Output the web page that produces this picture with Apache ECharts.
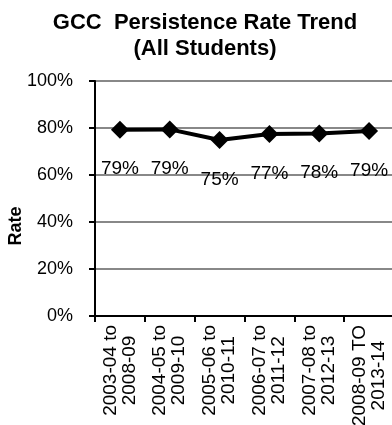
<!DOCTYPE html>
<html>
<head>
<meta charset="utf-8">
<script src="https://cdn.jsdelivr.net/npm/echarts@6/dist/echarts.min.js"></script>
<style>
  html, body { margin: 0; padding: 0; background: #fff; }
  #chart { width: 392px; height: 425px; }
</style>
</head>
<body>
<div id="chart"></div>
<script>
// Five-year cohort windows
const categories = [
  ['2003-04 to', '2008-09'],
  ['2004-05 to', '2009-10'],
  ['2005-06 to', '2010-11'],
  ['2006-07 to', '2011-12'],
  ['2007-08 to', '2012-13'],
  ['2008-09 TO', '2013-14']
];
// Persistence rate for all students (fraction)
const persistenceRate = [0.793, 0.794, 0.749, 0.774, 0.777, 0.787];
// Value axis ticks
const yTicks = [0, 0.2, 0.4, 0.6, 0.8, 1.0];

const FONT = 'Arial, "Liberation Sans", sans-serif';
const chart = echarts.init(document.getElementById('chart'), null, { renderer: 'canvas' });

chart.setOption({
  animation: false,
  backgroundColor: '#ffffff',
  title: {
    text: 'GCC  Persistence Rate Trend\n(All Students)',
    left: 200,
    top: 5,
    textAlign: 'center',
    textStyle: { fontFamily: FONT, fontSize: 22, fontWeight: 'bold', color: '#000', lineHeight: 26 }
  },
  graphic: [{
    type: 'text',
    x: 16,
    y: 226,
    rotation: Math.PI / 2,
    style: {
      text: 'Rate',
      fontFamily: FONT, fontSize: 18, fontWeight: 'bold', fill: '#000',
      textAlign: 'center', textVerticalAlign: 'middle'
    }
  }],
  grid: {
    left: 95, top: 81, right: -2, bottom: 109,
    containLabel: false,
    outerBoundsMode: 'none',
    show: true, borderColor: '#000', borderWidth: 2, backgroundColor: 'transparent'
  },
  xAxis: {
    type: 'category',
    data: categories.map(c => c.join('\n')),
    boundaryGap: true,
    axisLine: { show: true, lineStyle: { color: '#000', width: 2 } },
    axisTick: { show: true, alignWithLabel: false, length: 6, lineStyle: { color: '#000', width: 2 } },
    axisLabel: {
      rotate: 90,
      margin: 9,
      interval: 0,
      fontFamily: FONT, fontSize: 19, color: '#000', lineHeight: 19,
      formatter: v => v.split('\n').map(s => '{a|' + s + '}').join('\n'),
      rich: { a: { align: 'center', fontFamily: FONT, fontSize: 19, color: '#000', lineHeight: 19 } }
    }
  },
  yAxis: {
    type: 'value',
    min: yTicks[0],
    max: yTicks[yTicks.length - 1],
    interval: yTicks[1] - yTicks[0],
    axisLine: { show: true, lineStyle: { color: '#000', width: 2 } },
    axisTick: { show: true, length: 6, lineStyle: { color: '#000', width: 2 } },
    axisLabel: {
      margin: 22,
      fontFamily: FONT, fontSize: 18, color: '#000',
      formatter: v => Math.round(v * 100) + '%'
    },
    splitLine: { show: true, lineStyle: { color: '#888888', width: 2 } }
  },
  series: [{
    type: 'line',
    data: persistenceRate,
    symbol: 'diamond',
    symbolSize: 18,
    itemStyle: { color: '#000' },
    lineStyle: { color: '#000', width: 4 },
    label: {
      show: true,
      position: 'bottom',
      distance: 21,
      fontFamily: FONT, fontSize: 19, color: '#000',
      formatter: p => Math.round(p.value * 100) + '%'
    }
  }]
});
</script>
</body>
</html>
